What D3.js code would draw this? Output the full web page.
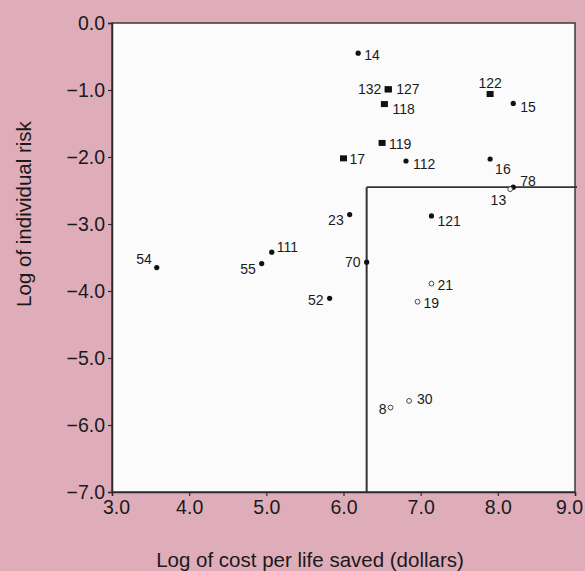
<!DOCTYPE html>
<html>
<head>
<meta charset="utf-8">
<script src="https://cdn.jsdelivr.net/npm/d3@7"></script>
<style>
  html, body { margin: 0; padding: 0; background: #dfadba; }
  svg { display: block; }
  text { font-family: "Liberation Sans", Arial, Helvetica, sans-serif; fill: #1a1a1a; }
</style>
</head>
<body>
<svg id="chart" width="585" height="571"></svg>
<script>
// ---- data ----
const pointIds   = ["14","132","127","118","119","17","112","122","15","16","78","13","23","121","70","21","19","52","54","55","111","8","30"];
const logCost    = [6.19, 6.58, 6.58, 6.53, 6.50, 6.00, 6.81, 7.90, 8.20, 7.90, 8.20, 8.16, 6.08, 7.14, 6.30, 7.14, 6.96, 5.82, 3.58, 4.94, 5.07, 6.61, 6.85];
const logRisk    = [-0.45,-0.99,-0.99,-1.21,-1.79,-2.02,-2.06,-1.06,-1.20,-2.03,-2.45,-2.48,-2.86,-2.88,-3.57,-3.89,-4.16,-4.11,-3.65,-3.59,-3.42,-5.74,-5.64];
const markerType = ["dot","square","square","square","square","square","dot","square","dot","dot","dot","open","dot","dot","dot","open","open","dot","dot","dot","dot","open","open"];
const xTicks = [3, 4, 5, 6, 7, 8, 9];
const yTicks = [0, -1, -2, -3, -4, -5, -6, -7];
const costLimit = 6.3;
const riskLimit = -2.45;
const xTitle = "Log of cost per life saved (dollars)";
const yTitle = "Log of individual risk";

// label placement (layout only)
const labelPlace = {
  "14": ["start", 6, 2], "132": ["end", -7, 0], "127": ["start", 8, 0],
  "118": ["start", 8, 5], "119": ["start", 7, 1], "17": ["start", 6, 1],
  "112": ["start", 7, 3], "122": ["middle", 0, -11], "15": ["start", 7, 4],
  "16": ["start", 5, 10], "78": ["start", 7, -6], "13": ["end", -4, 11],
  "23": ["end", -6, 5], "121": ["start", 6, 5], "70": ["end", -6, 0],
  "21": ["start", 6, 1], "19": ["start", 6, 1], "52": ["end", -6, 2],
  "54": ["end", -5, -9], "55": ["end", -6, 5], "111": ["start", 5, -5],
  "8": ["end", -4, 1], "30": ["start", 8, -2]
};

const points = pointIds.map((id, i) => ({ id, x: logCost[i], y: logRisk[i], type: markerType[i] }));

// ---- layout ----
const svg = d3.select("#chart");
const pLeft = 112, pRight = 575, pTop = 23, pBottom = 492;
const x = d3.scaleLinear().domain([3, 9]).range([pLeft, pRight]);
const y = d3.scaleLinear().domain([0, -7]).range([pTop, pBottom]);

// plot area
svg.append("rect")
  .attr("x", pLeft).attr("y", pTop)
  .attr("width", pRight - pLeft).attr("height", pBottom - pTop)
  .attr("fill", "#fbfbfb")
  .attr("stroke", "#3a3a3a").attr("stroke-width", 1.5);

// axes
const xAxis = svg.append("g").attr("transform", `translate(0,${pBottom})`)
  .call(d3.axisBottom(x).tickValues(xTicks).tickFormat(d3.format(".1f")).tickSize(4).tickPadding(4));
const yAxis = svg.append("g").attr("transform", `translate(${pLeft},0)`)
  .call(d3.axisLeft(y).tickValues(yTicks).tickFormat(d => d3.format(".1f")(d).replace("-", "\u2212")).tickSize(4).tickPadding(3));

[xAxis, yAxis].forEach(g => {
  g.select(".domain").attr("stroke", "#2a2a2a").attr("stroke-width", 1.5);
  g.selectAll(".tick line").attr("stroke", "#2a2a2a").attr("stroke-width", 1.2);
  g.selectAll(".tick text").attr("fill", "#1a1a1a")
    .style("font-family", '"Liberation Sans", Arial, sans-serif').style("font-size", "19.5px");
});
xAxis.selectAll(".tick text").attr("dx", d => d === 3 ? 4 : (d === 9 ? -6 : 0));

// boundary lines
svg.append("line")
  .attr("x1", x(costLimit)).attr("x2", x(costLimit))
  .attr("y1", y(riskLimit)).attr("y2", y(-7))
  .attr("stroke", "#333").attr("stroke-width", 2);
svg.append("line")
  .attr("x1", x(costLimit)).attr("x2", x(9) + 2)
  .attr("y1", y(riskLimit)).attr("y2", y(riskLimit))
  .attr("stroke", "#333").attr("stroke-width", 1.6);

// markers
const mk = svg.append("g");
points.forEach(p => {
  const cx = x(p.x), cy = y(p.y);
  if (p.type === "dot") {
    mk.append("circle").attr("cx", cx).attr("cy", cy).attr("r", 2.6).attr("fill", "#111");
  } else if (p.type === "square") {
    mk.append("rect").attr("x", cx - 3.5).attr("y", cy - 3).attr("width", 7).attr("height", 6).attr("fill", "#111");
  } else {
    mk.append("circle").attr("cx", cx).attr("cy", cy).attr("r", 2.4)
      .attr("fill", "#fbfbfb").attr("stroke", "#444").attr("stroke-width", 1);
  }
});

// labels
const lb = svg.append("g");
points.forEach(p => {
  const pl = labelPlace[p.id];
  lb.append("text")
    .attr("x", x(p.x) + pl[1]).attr("y", y(p.y) + pl[2])
    .attr("text-anchor", pl[0])
    .attr("dominant-baseline", "central")
    .style("font-size", "14px")
    .text(p.id);
});

// titles
svg.append("text")
  .attr("x", 310).attr("y", 567)
  .attr("text-anchor", "middle")
  .style("font-size", "20.5px")
  .text(xTitle);
svg.append("text")
  .attr("transform", "translate(31,214) rotate(-90)")
  .attr("text-anchor", "middle")
  .style("font-size", "20.5px")
  .text(yTitle);
</script>
</body>
</html>
